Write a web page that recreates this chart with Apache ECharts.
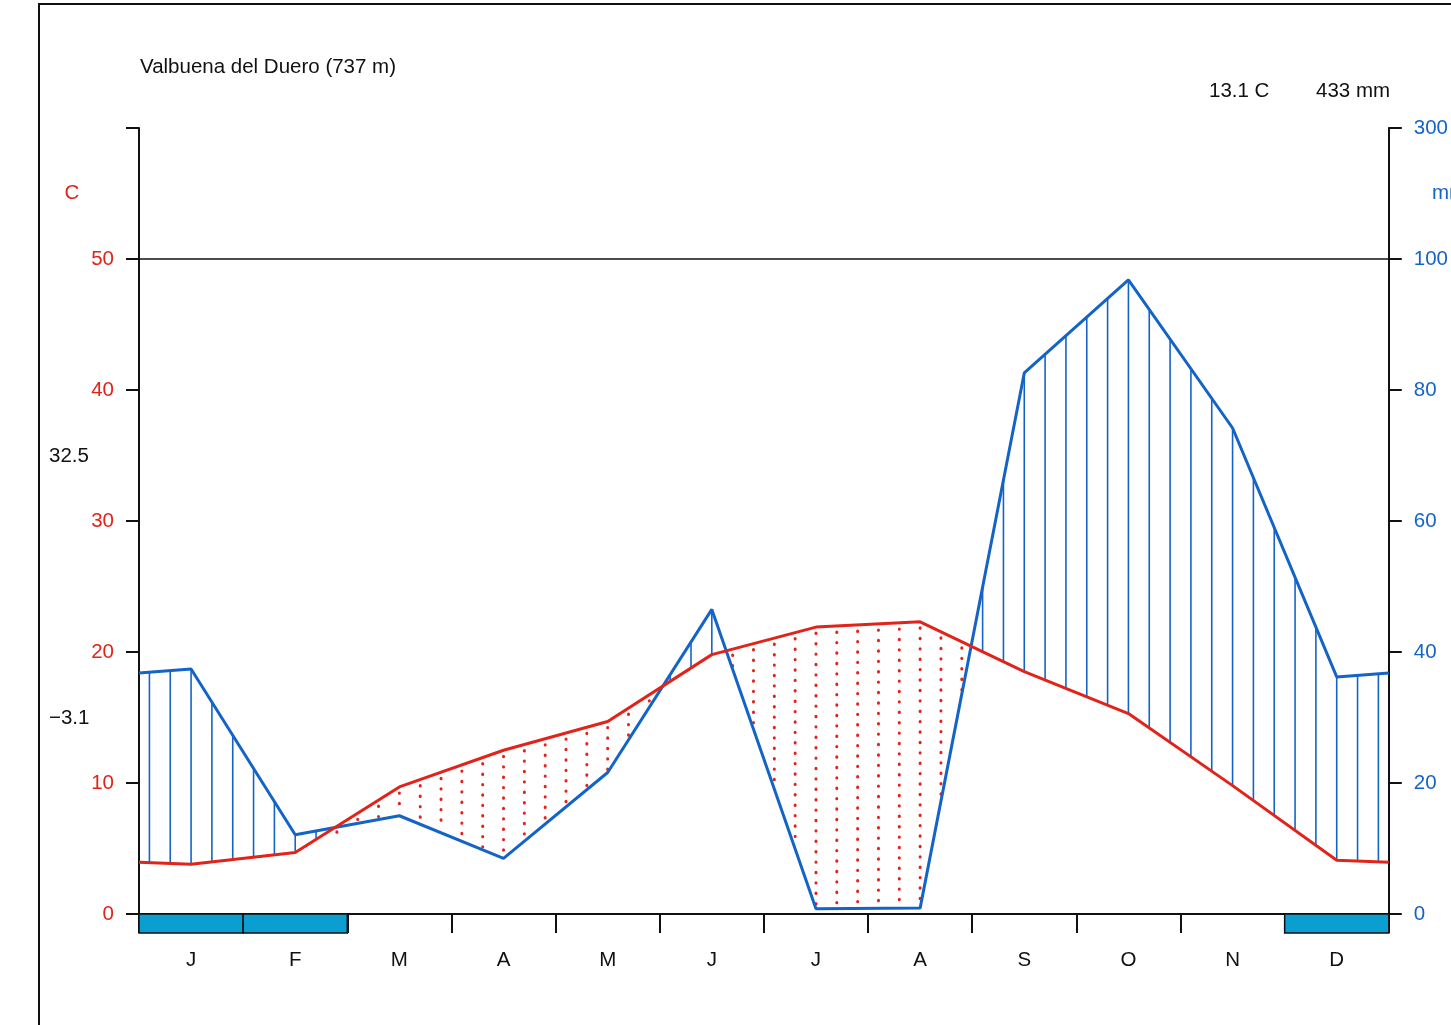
<!DOCTYPE html>
<html>
<head>
<meta charset="utf-8">
<title>Valbuena del Duero climate diagram</title>
<script src="https://cdn.jsdelivr.net/npm/echarts@6/dist/echarts.min.js"></script>
<style>
  html, body { margin: 0; padding: 0; background: #fff; }
  #chart { width: 1451px; height: 1025px; }
</style>
</head>
<body>
<div id="chart"></div>
<script>
// Monthly climate normals, Valbuena del Duero
const months = ['J', 'F', 'M', 'A', 'M', 'J', 'J', 'A', 'S', 'O', 'N', 'D'];
const temperature = [3.8, 4.7, 9.7, 12.5, 14.7, 19.8, 21.9, 22.3, 18.5, 15.3, 9.8, 4.1];   // °C
const precipitation = [37.4, 12.1, 15.0, 8.5, 21.6, 46.5, 0.8, 0.9, 82.6, 96.8, 74.2, 36.2]; // mm
const frostMonths = [1, 1, 0, 0, 0, 0, 0, 0, 0, 0, 0, 1];

const stationName = 'Valbuena del Duero (737 m)';
const meanTemperature = 13.1;
const annualPrecipitation = 433;
const maxWarmestMonth = 32.5;
const minColdestMonth = -3.1;

const tempTickLabels = ['0', '10', '20', '30', '40', '50', ''];
const precipTickLabels = ['0', '20', '40', '60', '80', '100', '300'];

const RED = '#e2231a';
const BLUE = '#1464c8';
const FONT = 'Liberation Sans, Arial, sans-serif';
const FONT_SIZE = 20.5;

// 1 °C corresponds to 2 mm on the lower part of the diagram
const MM_PER_C = 2;

// Curves run through mid-month points and wrap at the year edges
function wrapped(values) {
  const edge = (values[0] + values[values.length - 1]) / 2;
  const pts = [[0, edge]];
  values.forEach((v, i) => pts.push([i + 0.5, v]));
  pts.push([12, edge]);
  return pts;
}
const tempPts = wrapped(temperature);
const precPts = wrapped(precipitation);

function valueAt(pts, x) {
  for (let i = 0; i < pts.length - 1; i++) {
    const a = pts[i], b = pts[i + 1];
    if (x >= a[0] && x <= b[0]) {
      const t = (x - a[0]) / (b[0] - a[0]);
      return a[1] + t * (b[1] - a[1]);
    }
  }
  return pts[pts.length - 1][1];
}

// Five hatch lines per month
const HATCH_PER_MONTH = 5;
const hatchIndex = [];
for (let i = 0; i < 12 * HATCH_PER_MONTH; i++) hatchIndex.push(i);

const chart = echarts.init(document.getElementById('chart'), null, { renderer: 'canvas' });

const txt = (text, x, y, fill, extra) => ({
  type: 'text', silent: true,
  style: Object.assign({ text, x, y, fill, font: FONT_SIZE + 'px ' + FONT, textVerticalAlign: 'middle' }, extra || {})
});

const option = {
  animation: false,
  backgroundColor: '#fff',
  textStyle: { fontFamily: FONT },
  grid: { left: 139, right: 61, top: 128, bottom: 111, containLabel: false },
  xAxis: [
    {
      type: 'value', min: 0, max: 12, interval: 1,
      position: 'bottom',
      axisLine: { show: true, onZero: false, lineStyle: { color: '#111', width: 2 } },
      axisTick: { show: true, inside: false, length: 19, lineStyle: { color: '#111', width: 2 } },
      axisLabel: { show: false },
      splitLine: { show: false }
    },
    {
      type: 'category', data: months, position: 'bottom', boundaryGap: true,
      axisLine: { show: false }, axisTick: { show: false },
      axisLabel: { color: '#111', fontSize: FONT_SIZE, fontFamily: FONT, margin: 36 },
      splitLine: { show: false }
    }
  ],
  yAxis: [
    {
      type: 'value', min: 0, max: 60, interval: 10, position: 'left',
      axisLine: { show: true, lineStyle: { color: '#111', width: 2 } },
      axisTick: { show: true, length: 13, lineStyle: { color: '#111', width: 2 } },
      axisLabel: {
        color: RED, fontSize: FONT_SIZE, fontFamily: FONT, margin: 25,
        formatter: v => tempTickLabels[Math.round(v / 10)]
      },
      splitLine: { show: false }
    },
    {
      type: 'value', min: 0, max: 120, interval: 20, position: 'right',
      axisLine: { show: true, lineStyle: { color: '#111', width: 2 } },
      axisTick: { show: true, length: 13, lineStyle: { color: '#111', width: 2 } },
      axisLabel: {
        color: BLUE, fontSize: FONT_SIZE, fontFamily: FONT, margin: 25,
        formatter: v => precipTickLabels[Math.round(v / 20)]
      },
      splitLine: { show: false }
    }
  ],
  series: [
    {
      // humid (blue lines) and arid (red dots) hatching between the curves
      type: 'custom', xAxisIndex: 0, yAxisIndex: 0, z: 1, silent: true, clip: false,
      data: hatchIndex,
      renderItem: function (params, api) {
        const i = api.value(0);
        const x = (i + 0.5) / HATCH_PER_MONTH;
        const t = valueAt(tempPts, x);
        const p = valueAt(precPts, x) / MM_PER_C;
        const a = api.coord([x, t]);
        const b = api.coord([x, p]);
        if (p > t) {
          return {
            type: 'line',
            shape: { x1: a[0], y1: a[1], x2: b[0], y2: b[1] },
            style: { stroke: BLUE, lineWidth: 1.6 }
          };
        }
        return {
          type: 'line',
          shape: { x1: a[0], y1: a[1] + 6, x2: b[0], y2: b[1] - 3 },
          style: { stroke: RED, lineWidth: 3, lineDash: [0.4, 10], lineCap: 'round' }
        };
      }
    },
    {
      name: 'Precipitation', type: 'line', xAxisIndex: 0, yAxisIndex: 1, z: 3,
      data: precPts, symbol: 'none', silent: true,
      lineStyle: { color: BLUE, width: 3 }
    },
    {
      name: 'Temperature', type: 'line', xAxisIndex: 0, yAxisIndex: 0, z: 4,
      data: tempPts, symbol: 'none', silent: true,
      lineStyle: { color: RED, width: 3 },
      markLine: {
        silent: true, symbol: 'none', label: { show: false },
        lineStyle: { color: '#111', width: 1.6, type: 'solid' },
        data: [{ yAxis: 50 }]
      }
    },
    {
      // frost months strip under the time axis
      type: 'custom', xAxisIndex: 0, yAxisIndex: 0, z: 5, silent: true, clip: false,
      data: frostMonths.map((f, i) => [i, f]).filter(d => d[1] > 0),
      renderItem: function (params, api) {
        const m = api.value(0);
        const p0 = api.coord([m, 0]);
        const p1 = api.coord([m + 1, 0]);
        return {
          type: 'rect',
          shape: { x: p0[0], y: p0[1], width: p1[0] - p0[0], height: 19 },
          style: { fill: '#0b9ed1', stroke: '#111', lineWidth: 1.5 }
        };
      }
    }
  ],
  graphic: [
    {
      type: 'rect', silent: true, z: 0,
      shape: { x: 39, y: 4, width: 1500, height: 1100 },
      style: { fill: 'none', stroke: '#111', lineWidth: 2 }
    },
    txt(stationName, 140, 67, '#111'),
    txt(meanTemperature.toFixed(1) + ' C', 1209, 91, '#111'),
    txt(annualPrecipitation + ' mm', 1316, 91, '#111'),
    txt('C', 72, 193, RED, { textAlign: 'center' }),
    txt('mm', 1432, 193, BLUE),
    txt(maxWarmestMonth.toFixed(1), 49, 456, '#111'),
    txt((minColdestMonth < 0 ? '\u2212' : '') + Math.abs(minColdestMonth).toFixed(1), 49, 718, '#111')
  ]
};

chart.setOption(option);
</script>
</body>
</html>
